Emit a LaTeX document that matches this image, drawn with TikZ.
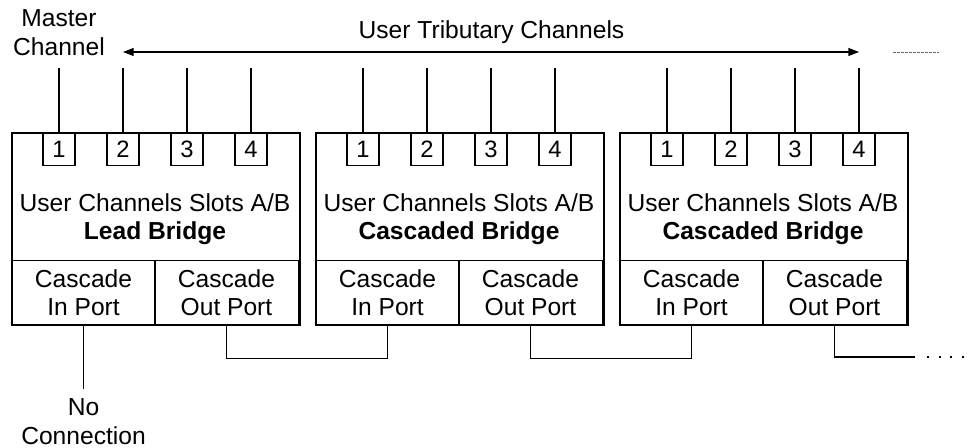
\documentclass[tikz,border=0pt]{standalone}
\usepackage{fontspec}
\setmainfont{Liberation Sans}
\usetikzlibrary{arrows.meta, positioning, calc}

\begin{document}
\begin{tikzpicture}[x=0.02cm, y=-0.02cm,
    every node/.style={font=\fontsize{14}{16}\selectfont, inner sep=0pt},
    bridge/.style={draw, line width=1.4pt, minimum width=5.76cm, minimum height=3.84cm},
    slotbox/.style={draw, line width=0.6pt, minimum width=0.64cm, minimum height=0.66cm, font=\fontsize{13.5}{14}\selectfont},
    portbox/.style={draw, line width=0.6pt, minimum width=2.88cm, minimum height=1.28cm, align=center},
    wire/.style={line width=0.6pt}]
    \useasboundingbox (0,0) rectangle (969,448);

    % --- Bridges ---
    \foreach \i/\x/\name in {1/11/Lead Bridge, 2/315/Cascaded Bridge, 3/619/Cascaded Bridge} {
        % Cascade ports
        \node[portbox, anchor=north west] (in\i) at (\x, 260) {Cascade\\In Port};
        \node[portbox, anchor=north east] (out\i) at (\x+288, 260) {Cascade\\Out Port};
        % Outer box
        \node[bridge, anchor=north west] (b\i) at (\x, 132) {};
        \node[align=center] (t\i) at (\x+144, 219) {User Channels Slots A/B\\\textbf{\name}};
        % Channel slots
        \foreach \k in {1,...,4} {
            \node[slotbox, anchor=north] (s\i\k) at (\x+48+64*\k-64, 132) {\k};
            \coordinate (c\i\k) at (\x+48+64*\k-64, 68);
            \draw[wire] (c\i\k) -- (s\i\k);
        }
    }

    % --- Master channel ---
    \node[align=center, above=7pt of c11] (master) {Master\\Channel};

    % --- User tributary channels ---
    \coordinate (arrL) at ($(c12)+(0,-16)$);
    \coordinate (arrR) at ($(c34)+(0,-16)$);
    \draw[wire, {Triangle[length=6pt, width=4.5pt]}-{Triangle[length=6pt, width=4.5pt]}] (arrL) -- (arrR);
    \node (trib) at (491.5, 32) {User Tributary Channels};
    \coordinate (dashA) at (893, 52);
    \coordinate (dashB) at (939, 52);
    \draw[gray!80!black, line width=0.5pt, dash pattern=on 1.5pt off 0.8pt] (dashA) -- (dashB);

    % --- Cascade links ---
    \draw[wire] (in1.south) -- ++(0,64) coordinate (nc);
    \node[align=center, below=5.5pt of nc] (noconn) {No\\Connection};
    \draw[wire] (out1.south) -- ++(0,33) -| (in2.south);
    \draw[wire] (out2.south) -- ++(0,33) -| (in3.south);
    \coordinate (more) at (915, 357);
    \draw[wire] (out3.south) |- (more);
    \coordinate (dotsA) at (927, 357);
    \coordinate (dotsB) at (966, 357);
    \draw[line width=1pt, dash pattern=on 1.2pt off 5.4pt] (dotsA) -- (dotsB);
\end{tikzpicture}
\end{document}
